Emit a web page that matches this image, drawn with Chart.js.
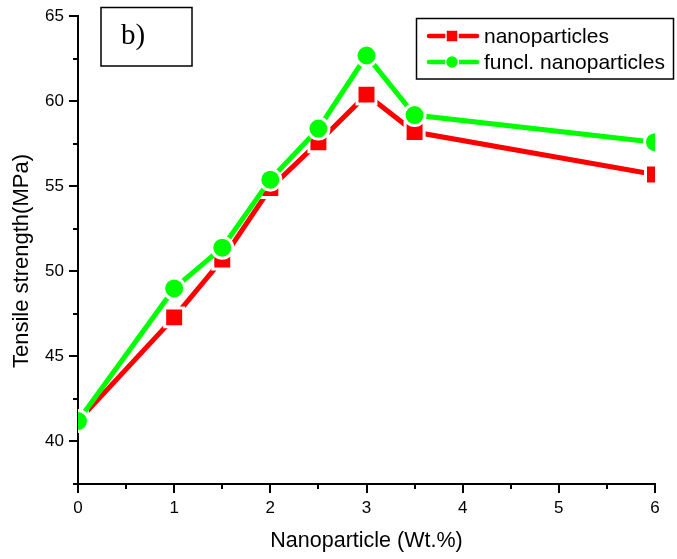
<!DOCTYPE html>
<html>
<head>
<meta charset="utf-8">
<script src="https://cdn.jsdelivr.net/npm/chart.js@4.4.0/dist/chart.umd.min.js"></script>
<style>
  html, body { margin: 0; padding: 0; background: #fff; }
  canvas { display: block; }
</style>
</head>
<body>
<canvas id="chart-area" width="677" height="559"></canvas>
<script>
const loadings = [0, 1, 1.5, 2, 2.5, 3, 3.5, 6];
const nanoStrength = [41.2, 47.3, 50.7, 54.9, 57.6, 60.4, 58.2, 55.7];
const funclStrength = [41.2, 49.0, 51.4, 55.4, 58.4, 62.7, 59.2, 57.6];
const seriesLabels = ['nanoparticles', 'funcl. nanoparticles'];
const yTicks = [40, 45, 50, 55, 60, 65];
const xMinorTicks = [0.5, 1.5, 2.5, 3.5, 4.5, 5.5];
const yMinorTicks = [37.5, 42.5, 47.5, 52.5, 57.5, 62.5];
const panelLabel = 'b)';
const yTitle = 'Tensile strength(MPa)';

const SANS = '"Liberation Sans", Arial, sans-serif';

function toPoints(ys) {
  return loadings.map((x, i) => ({x: x, y: ys[i]}));
}

// minor ticks, y title, the "b)" box and the framed legend
const extras = {
  id: 'extras',
  afterDraw(chart) {
    const ctx = chart.ctx;
    const xs = chart.scales.x;
    const ys = chart.scales.y;
    const area = chart.chartArea;
    ctx.save();
    ctx.strokeStyle = '#000';
    ctx.lineWidth = 2;
    ctx.beginPath();
    xMinorTicks.forEach(v => {
      const px = Math.round(xs.getPixelForValue(v));
      ctx.moveTo(px, area.bottom);
      ctx.lineTo(px, area.bottom + 5);
    });
    yMinorTicks.forEach(v => {
      const py = Math.round(ys.getPixelForValue(v));
      ctx.moveTo(area.left, py);
      ctx.lineTo(area.left - 5, py);
    });
    ctx.stroke();

    // y axis title (sits a bit below the axis centre in the original)
    ctx.save();
    ctx.translate(22, 261);
    ctx.rotate(-Math.PI / 2);
    ctx.fillStyle = '#000';
    ctx.font = '22px ' + SANS;
    ctx.textAlign = 'center';
    ctx.textBaseline = 'middle';
    ctx.fillText(yTitle, 0, 0);
    ctx.restore();

    // panel label
    ctx.lineWidth = 1.5;
    ctx.strokeRect(101, 7.5, 91, 58.5);
    ctx.fillStyle = '#000';
    ctx.font = '29px "Liberation Serif", "Times New Roman", serif';
    ctx.textBaseline = 'alphabetic';
    ctx.textAlign = 'left';
    ctx.fillText(panelLabel, 121, 44);

    // legend
    ctx.lineWidth = 1.5;
    ctx.strokeRect(416.5, 18.5, 257, 60.5);
    const rows = [36, 62];
    chart.data.datasets.forEach((ds, i) => {
      const y = rows[i];
      ctx.strokeStyle = ds.borderColor;
      ctx.lineWidth = 4.5;
      ctx.lineCap = 'round';
      ctx.beginPath();
      ctx.moveTo(429, y);
      ctx.lineTo(477, y);
      ctx.stroke();
      ctx.fillStyle = ds.borderColor;
      ctx.strokeStyle = '#fff';
      ctx.lineWidth = 1.5;
      ctx.beginPath();
      if (ds.pointStyle === 'rect') {
        ctx.rect(446, y - 6, 12, 12);
      } else {
        ctx.arc(452, y, 6.5, 0, Math.PI * 2);
      }
      ctx.fill();
      ctx.stroke();
      ctx.fillStyle = '#000';
      ctx.font = '21px ' + SANS;
      ctx.textBaseline = 'middle';
      ctx.fillText(ds.label, 484, y + 1);
    });
    ctx.restore();
  }
};

const config = {
  type: 'line',
  data: {
    datasets: [
      {
        label: seriesLabels[0],
        data: toPoints(nanoStrength),
        borderColor: '#ff0000',
        backgroundColor: '#ff0000',
        borderWidth: 5,
        pointStyle: 'rect',
        pointRadius: 13.4,
        pointBorderColor: '#ffffff',
        pointBorderWidth: 3,
        pointBackgroundColor: '#ff0000',
        order: 1,
        clip: 0
      },
      {
        label: seriesLabels[1],
        data: toPoints(funclStrength),
        borderColor: '#00ff00',
        backgroundColor: '#00ff00',
        borderWidth: 5,
        pointStyle: 'circle',
        pointRadius: 10.5,
        pointBorderColor: '#ffffff',
        pointBorderWidth: 3,
        pointBackgroundColor: '#00ff00',
        order: 0,
        clip: 0
      }
    ]
  },
  options: {
    responsive: false,
    animation: false,
    events: [],
    devicePixelRatio: 1,
    layout: {padding: {top: 16, right: 22, left: 0, bottom: 0}},
    elements: {line: {tension: 0}},
    plugins: {
      legend: {display: false},
      tooltip: {enabled: false}
    },
    scales: {
      x: {
        type: 'linear',
        min: 0,
        max: 6,
        ticks: {stepSize: 1, color: '#000', font: {family: SANS, size: 17}, padding: 5, maxRotation: 0},
        grid: {drawOnChartArea: false, drawTicks: true, tickLength: 9, color: '#000', lineWidth: 2},
        border: {display: true, color: '#000', width: 2},
        title: {display: true, text: 'Nanoparticle (Wt.%)', color: '#000', font: {family: SANS, size: 21.5}, padding: {top: 0, bottom: 5}},
        afterFit(scale) { scale.height = 75; }
      },
      y: {
        type: 'linear',
        min: 37.5,
        max: 65,
        afterBuildTicks(scale) {
          scale.ticks = yTicks.map(v => ({value: v}));
        },
        ticks: {color: '#000', font: {family: SANS, size: 17}, padding: 5},
        grid: {drawOnChartArea: false, drawTicks: true, tickLength: 9, color: '#000', lineWidth: 2},
        border: {display: true, color: '#000', width: 2},
        afterFit(scale) { scale.width = 78; }
      }
    }
  },
  plugins: [extras]
};

const ctx = document.getElementById('chart-area').getContext('2d');
window.strengthChart = new Chart(ctx, config);
</script>
</body>
</html>
